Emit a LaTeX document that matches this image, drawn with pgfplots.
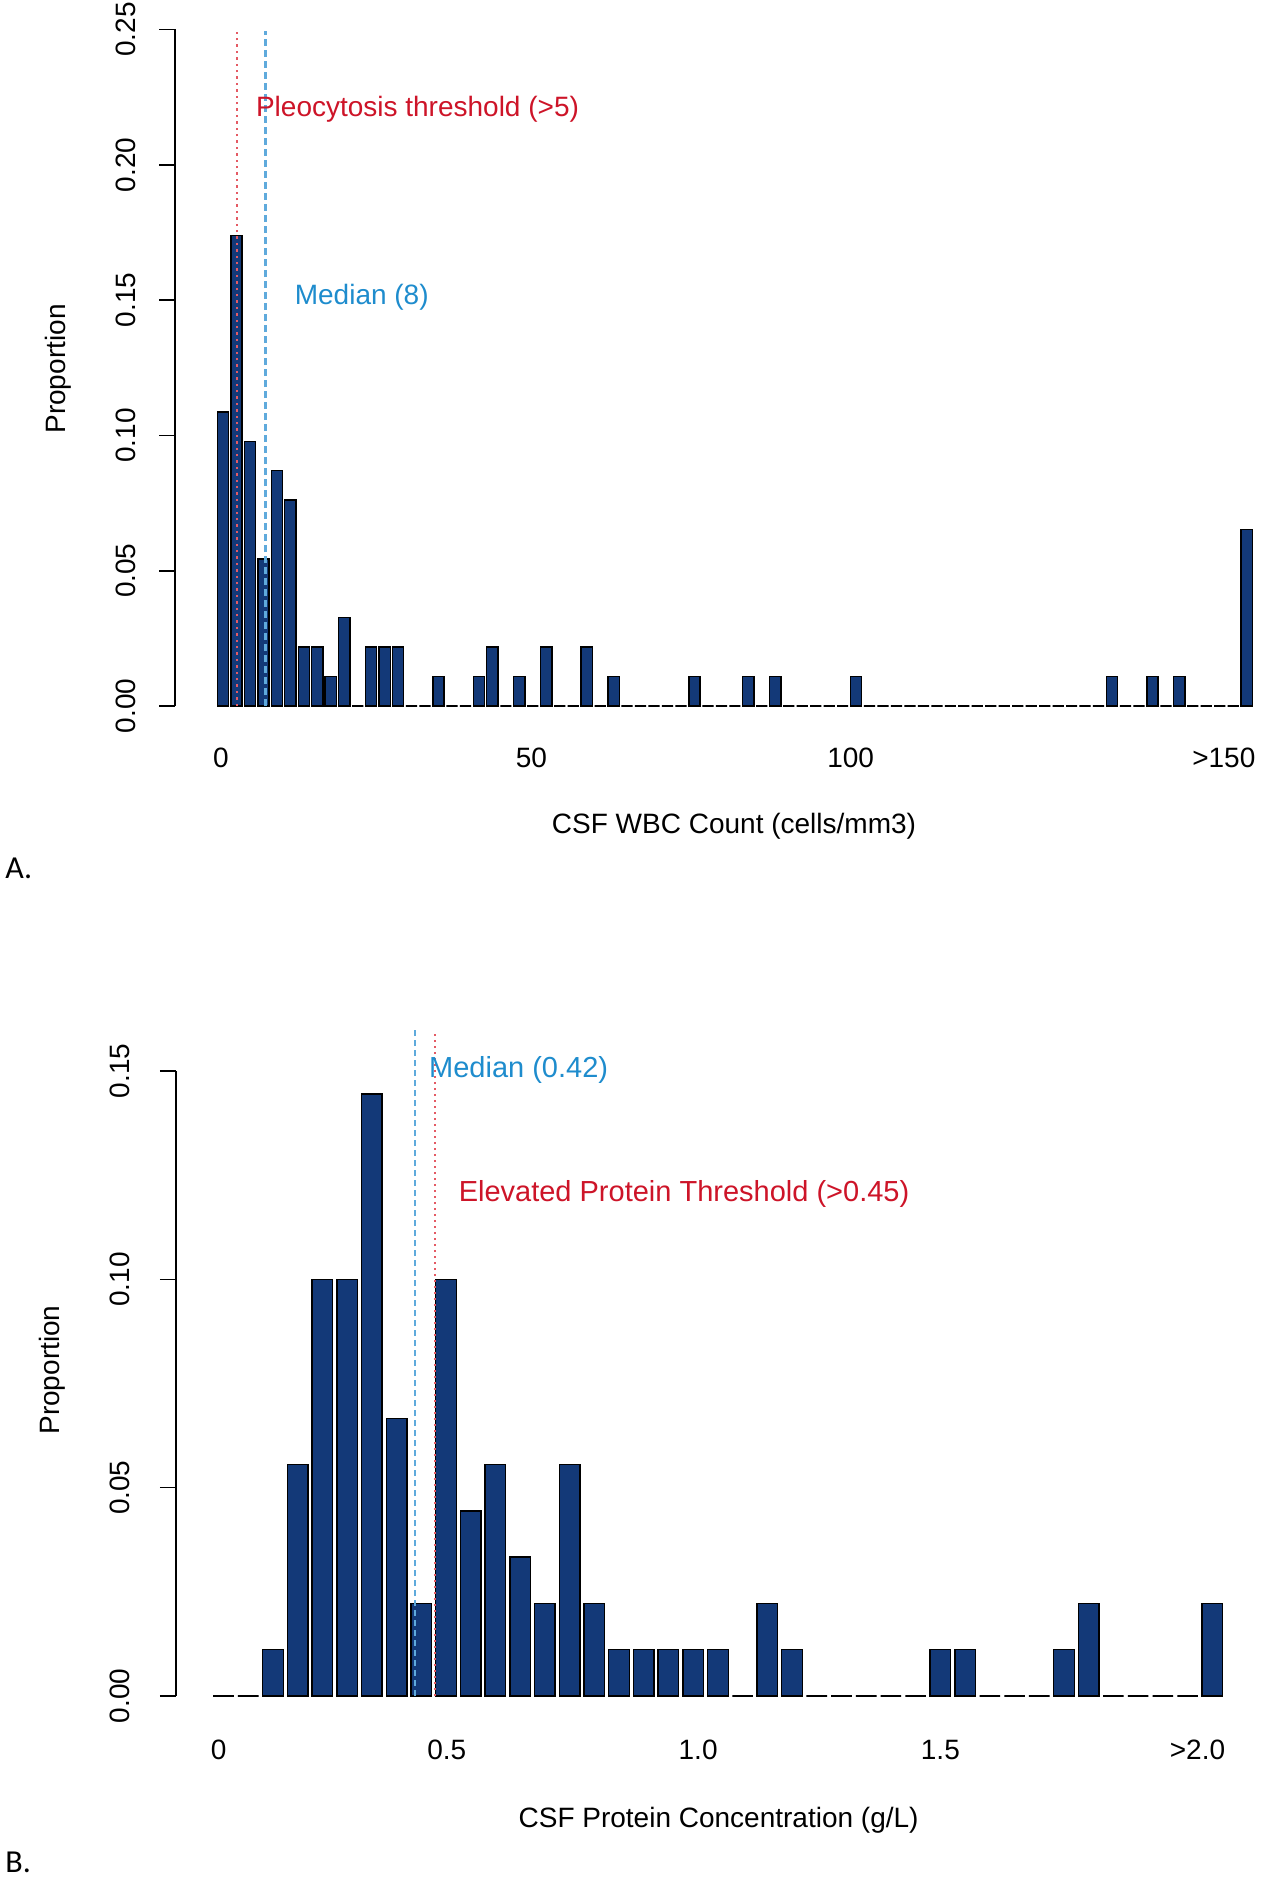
\documentclass[border=0pt]{standalone}
\usepackage{fontspec}
\setmainfont{Liberation Sans}
\newfontfamily\calibri{Carlito}
\usepackage{pgfplots}
\usepackage{pgfplotstable}
\pgfplotsset{compat=1.18}

\definecolor{barfill}{RGB}{19,57,120}
\definecolor{redtxt}{RGB}{205,20,40}
\definecolor{bluetxt}{RGB}{30,140,205}
\definecolor{redline}{RGB}{228,90,100}
\definecolor{blueline}{RGB}{95,170,220}

% panel A: proportion of 92 patients per WBC bin (bar index 0..76)
\pgfplotstableread{
bin prop
0 0.10870
1 0.17391
2 0.09783
3 0.05435
4 0.08696
5 0.07609
6 0.02174
7 0.02174
8 0.01087
9 0.03261
10 0
11 0.02174
12 0.02174
13 0.02174
14 0
15 0
16 0.01087
17 0
18 0
19 0.01087
20 0.02174
21 0
22 0.01087
23 0
24 0.02174
25 0
26 0
27 0.02174
28 0
29 0.01087
30 0
31 0
32 0
33 0
34 0
35 0.01087
36 0
37 0
38 0
39 0.01087
40 0
41 0.01087
42 0
43 0
44 0
45 0
46 0
47 0.01087
48 0
49 0
50 0
51 0
52 0
53 0
54 0
55 0
56 0
57 0
58 0
59 0
60 0
61 0
62 0
63 0
64 0
65 0
66 0.01087
67 0
68 0
69 0.01087
70 0
71 0.01087
72 0
73 0
74 0
75 0
76 0.06522
}\wbc

% panel B: proportion of 90 patients per protein bin (bar index 0..40)
\pgfplotstableread{
bin prop
0 0
1 0
2 0.01111
3 0.05556
4 0.10000
5 0.10000
6 0.14444
7 0.06667
8 0.02222
9 0.10000
10 0.04444
11 0.05556
12 0.03333
13 0.02222
14 0.05556
15 0.02222
16 0.01111
17 0.01111
18 0.01111
19 0.01111
20 0.01111
21 0
22 0.02222
23 0.01111
24 0
25 0
26 0
27 0
28 0
29 0.01111
30 0.01111
31 0
32 0
33 0
34 0.01111
35 0.02222
36 0
37 0
38 0
39 0
40 0.02222
}\protein

\newcommand{\lab}{\fontsize{14}{16.8}\selectfont}
\newcommand{\note}{\fontsize{14.5}{17}\selectfont}

\pgfplotsset{
  rplot/.style={
    scale only axis, enlargelimits=false, clip=false,
    axis y line=left, axis x line=bottom,
    y axis line style={-, line width=0.8pt},
    x axis line style={draw=none},
    major x tick style={draw=none},
    major y tick style={line width=0.8pt, black},
    tick align=outside, major tick length=8pt,
    tick label style={font=\lab},
    /pgf/number format/assume math mode=true,
    yticklabel style={/pgf/number format/fixed, /pgf/number format/fixed zerofill,
      /pgf/number format/precision=2},
    xticklabel style={anchor=center, yshift=-18pt},
  },
  rbars/.style={ybar, bar width=0.833, fill=barfill, draw=black, line width=0.7pt},
}

\begin{document}
\begin{tikzpicture}
\path[use as bounding box] (0,0) rectangle (630pt,-939pt);

% ---------- A ----------
\begin{axis}[rplot,
  at={(87.5pt,-353pt)}, anchor=south west,
  width=542.5pt, height=338.25pt,
  xmin=-3.5635, xmax=76.986, ymin=0, ymax=0.25,
  ytick={0,0.05,0.1,0.15,0.2,0.25},
  yticklabel style={xshift=-16.5pt, rotate=90, anchor=center},
  xtick={-0.15,22.9,46.6,74.3},
  xticklabels={0,50,100,{>}150},
]
\addplot[rbars] table[x=bin, y=prop] {\wbc};
\addplot[draw=redline, dotted, line width=1.2pt] coordinates {(1.04,0) (1.04,0.249)};
\addplot[draw=blueline, dash pattern=on 3.5pt off 2pt, line width=1.3pt] coordinates {(3.15,0) (3.15,0.2495)};
\node[text=redtxt, font=\lab] at (axis cs:14.44,0.2205) {Pleocytosis threshold (>5)};
\node[text=bluetxt, font=\lab] at (axis cs:10.30,0.1509) {Median (8)};
\end{axis}
\node[font=\lab, rotate=90] at (29pt,-184.5pt) {Proportion};
\node[font=\lab] at (367pt,-413pt) {CSF WBC Count (cells/mm3)};
\node[font=\calibri\fontsize{16}{19}\selectfont, anchor=west, inner sep=0pt] at (2.5pt,-434pt) {A.};

% ---------- B ----------
\begin{axis}[rplot,
  at={(88pt,-848pt)}, anchor=south west,
  width=542pt, height=312.5pt,
  xmin=-1.9215, xmax=41.93, ymin=0, ymax=0.15,
  ytick={0,0.05,0.1,0.15},
  yticklabel style={xshift=-20pt, rotate=90, anchor=center},
  xtick={-0.2,9.03,19.2,29.0,39.4},
  xticklabels={0,0.5,1.0,1.5,{>}2.0},
  xticklabel style={yshift=-1pt},
]
\addplot[rbars] table[x=bin, y=prop] {\protein};
\addplot[draw=blueline, dash pattern=on 3pt off 2pt, line width=0.9pt] coordinates {(7.75,0) (7.75,0.160)};
\addplot[draw=redline, dotted, line width=1pt] coordinates {(8.56,0) (8.56,0.159)};
\node[text=bluetxt, font=\note] at (axis cs:11.94,0.1503) {Median (0.42)};
\node[text=redtxt, font=\note] at (axis cs:18.63,0.1205) {Elevated Protein Threshold (>0.45)};
\end{axis}
\node[font=\lab, rotate=90] at (26pt,-685pt) {Proportion};
\node[font=\lab] at (359.3pt,-910.3pt) {CSF Protein Concentration (g/L)};
\node[font=\calibri\fontsize{16}{19}\selectfont, anchor=west, inner sep=0pt] at (2.5pt,-931pt) {B.};
\end{tikzpicture}
\end{document}
